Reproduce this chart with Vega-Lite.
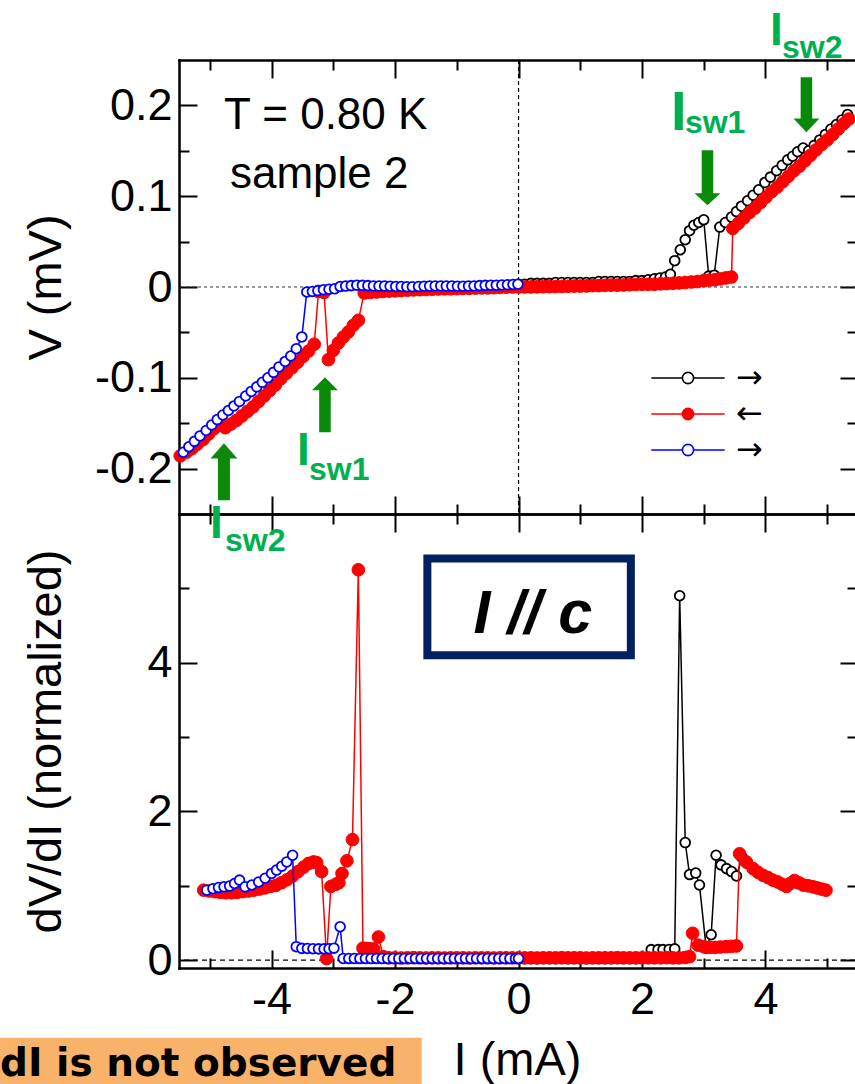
{
  "$schema": "https://vega.github.io/schema/vega-lite/v6.json",
  "padding": {"left": 0, "top": 8, "right": 0, "bottom": 0},
  "background": "white",
  "spacing": 0,
  "bounds": "flush",
  "datasets": {
    "iv": [
      {"s":"k","I":0,"V":0.003},{"s":"k","I":0.1,"V":0.003},{"s":"k","I":0.2,"V":0.004},{"s":"k","I":0.3,"V":0.004},{"s":"k","I":0.4,"V":0.004},{"s":"k","I":0.5,"V":0.004},{"s":"k","I":0.6,"V":0.005},{"s":"k","I":0.7,"V":0.005},{"s":"k","I":0.8,"V":0.005},{"s":"k","I":0.9,"V":0.005},{"s":"k","I":1.0,"V":0.005},{"s":"k","I":1.1,"V":0.005},{"s":"k","I":1.2,"V":0.005},{"s":"k","I":1.3,"V":0.006},{"s":"k","I":1.4,"V":0.006},{"s":"k","I":1.5,"V":0.006},{"s":"k","I":1.6,"V":0.006},{"s":"k","I":1.7,"V":0.006},{"s":"k","I":1.8,"V":0.006},{"s":"k","I":1.9,"V":0.007},{"s":"k","I":2.0,"V":0.007},{"s":"k","I":2.1,"V":0.008},{"s":"k","I":2.2,"V":0.009},{"s":"k","I":2.29,"V":0.010},{"s":"k","I":2.38,"V":0.011},{"s":"k","I":2.46,"V":0.014},{"s":"k","I":2.53,"V":0.029},{"s":"k","I":2.62,"V":0.041},{"s":"k","I":2.70,"V":0.052},{"s":"k","I":2.77,"V":0.062},{"s":"k","I":2.84,"V":0.068},{"s":"k","I":2.92,"V":0.071},{"s":"k","I":3.00,"V":0.074},{"s":"k","I":3.08,"V":0.012},{"s":"k","I":3.17,"V":0.013},{"s":"k","I":3.26,"V":0.066},{"s":"k","I":3.35,"V":0.071},{"s":"k","I":3.45,"V":0.077},{"s":"k","I":3.53,"V":0.083},{"s":"k","I":3.61,"V":0.089},{"s":"k","I":3.71,"V":0.095},{"s":"k","I":3.80,"V":0.101},{"s":"k","I":3.89,"V":0.107},{"s":"k","I":3.99,"V":0.115},{"s":"k","I":4.08,"V":0.121},{"s":"k","I":4.18,"V":0.128},{"s":"k","I":4.27,"V":0.134},{"s":"k","I":4.36,"V":0.140},{"s":"k","I":4.44,"V":0.144},{"s":"k","I":4.52,"V":0.149},{"s":"k","I":4.61,"V":0.153},{"s":"k","I":4.70,"V":0.150},{"s":"k","I":4.79,"V":0.156},{"s":"k","I":4.88,"V":0.162},{"s":"k","I":4.97,"V":0.168},{"s":"k","I":5.06,"V":0.174},{"s":"k","I":5.15,"V":0.179},{"s":"k","I":5.24,"V":0.184},{"s":"k","I":5.33,"V":0.190},
      {"s":"r","I":-5.48,"V":-0.186},{"s":"r","I":-5.38,"V":-0.182},{"s":"r","I":-5.29,"V":-0.178},{"s":"r","I":-5.20,"V":-0.173},{"s":"r","I":-5.11,"V":-0.168},{"s":"r","I":-5.02,"V":-0.162},{"s":"r","I":-4.93,"V":-0.156},{"s":"r","I":-4.84,"V":-0.150},{"s":"r","I":-4.75,"V":-0.155},{"s":"r","I":-4.66,"V":-0.151},{"s":"r","I":-4.57,"V":-0.147},{"s":"r","I":-4.48,"V":-0.142},{"s":"r","I":-4.39,"V":-0.137},{"s":"r","I":-4.30,"V":-0.132},{"s":"r","I":-4.21,"V":-0.126},{"s":"r","I":-4.12,"V":-0.120},{"s":"r","I":-4.03,"V":-0.114},{"s":"r","I":-3.94,"V":-0.108},{"s":"r","I":-3.85,"V":-0.101},{"s":"r","I":-3.76,"V":-0.095},{"s":"r","I":-3.67,"V":-0.089},{"s":"r","I":-3.58,"V":-0.083},{"s":"r","I":-3.49,"V":-0.0765},{"s":"r","I":-3.40,"V":-0.0705},{"s":"r","I":-3.31,"V":-0.063},{"s":"r","I":-3.24,"V":-0.005},{"s":"r","I":-3.15,"V":-0.006},{"s":"r","I":-3.08,"V":-0.080},{"s":"r","I":-3.00,"V":-0.0698},{"s":"r","I":-2.919,"V":-0.0617},{"s":"r","I":-2.838,"V":-0.0551},{"s":"r","I":-2.757,"V":-0.0496},{"s":"r","I":-2.676,"V":-0.0422},{"s":"r","I":-2.595,"V":-0.0367},{"s":"r","I":-2.5,"V":-0.0065},{"s":"r","I":-2.4,"V":-0.006},{"s":"r","I":-2.3,"V":-0.0055},{"s":"r","I":-2.2,"V":-0.005},{"s":"r","I":-2.1,"V":-0.0045},{"s":"r","I":-2.0,"V":-0.0042},{"s":"r","I":-1.9,"V":-0.004},{"s":"r","I":-1.8,"V":-0.0035},{"s":"r","I":-1.7,"V":-0.0032},{"s":"r","I":-1.6,"V":-0.003},{"s":"r","I":-1.5,"V":-0.0028},{"s":"r","I":-1.4,"V":-0.0025},{"s":"r","I":-1.3,"V":-0.0022},{"s":"r","I":-1.2,"V":-0.002},{"s":"r","I":-1.1,"V":-0.002},{"s":"r","I":-1.0,"V":-0.0018},{"s":"r","I":-0.9,"V":-0.0015},{"s":"r","I":-0.8,"V":-0.0015},{"s":"r","I":-0.7,"V":-0.0012},{"s":"r","I":-0.6,"V":-0.001},{"s":"r","I":-0.5,"V":-0.001},{"s":"r","I":-0.4,"V":-0.0008},{"s":"r","I":-0.3,"V":-0.0005},{"s":"r","I":-0.2,"V":-0.0002},{"s":"r","I":-0.1,"V":0.0},{"s":"r","I":0.0,"V":0.0},{"s":"r","I":0.1,"V":0.0},{"s":"r","I":0.2,"V":0.0001},{"s":"r","I":0.3,"V":0.0002},{"s":"r","I":0.4,"V":0.0003},{"s":"r","I":0.5,"V":0.0004},{"s":"r","I":0.6,"V":0.0005},{"s":"r","I":0.7,"V":0.0006},{"s":"r","I":0.8,"V":0.0008},{"s":"r","I":0.9,"V":0.001},{"s":"r","I":1.0,"V":0.001},{"s":"r","I":1.1,"V":0.0012},{"s":"r","I":1.2,"V":0.0015},{"s":"r","I":1.3,"V":0.0015},{"s":"r","I":1.4,"V":0.0018},{"s":"r","I":1.5,"V":0.002},{"s":"r","I":1.6,"V":0.002},{"s":"r","I":1.7,"V":0.0022},{"s":"r","I":1.8,"V":0.0025},{"s":"r","I":1.9,"V":0.0028},{"s":"r","I":2.0,"V":0.003},{"s":"r","I":2.1,"V":0.003},{"s":"r","I":2.2,"V":0.003},{"s":"r","I":2.3,"V":0.0035},{"s":"r","I":2.4,"V":0.0038},{"s":"r","I":2.5,"V":0.004},{"s":"r","I":2.6,"V":0.0045},{"s":"r","I":2.7,"V":0.005},{"s":"r","I":2.8,"V":0.0055},{"s":"r","I":2.9,"V":0.006},{"s":"r","I":3.0,"V":0.007},{"s":"r","I":3.09,"V":0.0075},{"s":"r","I":3.18,"V":0.008},{"s":"r","I":3.27,"V":0.009},{"s":"r","I":3.36,"V":0.010},{"s":"r","I":3.45,"V":0.011},{"s":"r","I":3.47,"V":0.0645},{"s":"r","I":3.56,"V":0.070},{"s":"r","I":3.65,"V":0.076},{"s":"r","I":3.74,"V":0.082},{"s":"r","I":3.83,"V":0.087},{"s":"r","I":3.92,"V":0.093},{"s":"r","I":4.01,"V":0.099},{"s":"r","I":4.10,"V":0.105},{"s":"r","I":4.19,"V":0.110},{"s":"r","I":4.28,"V":0.116},{"s":"r","I":4.37,"V":0.122},{"s":"r","I":4.46,"V":0.128},{"s":"r","I":4.55,"V":0.133},{"s":"r","I":4.64,"V":0.139},{"s":"r","I":4.73,"V":0.145},{"s":"r","I":4.82,"V":0.151},{"s":"r","I":4.91,"V":0.157},{"s":"r","I":5.00,"V":0.162},{"s":"r","I":5.09,"V":0.168},{"s":"r","I":5.18,"V":0.174},{"s":"r","I":5.27,"V":0.180},{"s":"r","I":5.35,"V":0.185},
      {"s":"b","I":-5.43,"V":-0.182},{"s":"b","I":-5.34,"V":-0.176},{"s":"b","I":-5.25,"V":-0.170},{"s":"b","I":-5.16,"V":-0.164},{"s":"b","I":-5.06,"V":-0.158},{"s":"b","I":-4.97,"V":-0.152},{"s":"b","I":-4.88,"V":-0.146},{"s":"b","I":-4.79,"V":-0.141},{"s":"b","I":-4.70,"V":-0.136},{"s":"b","I":-4.61,"V":-0.131},{"s":"b","I":-4.52,"V":-0.126},{"s":"b","I":-4.42,"V":-0.120},{"s":"b","I":-4.33,"V":-0.115},{"s":"b","I":-4.24,"V":-0.110},{"s":"b","I":-4.15,"V":-0.105},{"s":"b","I":-4.06,"V":-0.100},{"s":"b","I":-3.97,"V":-0.094},{"s":"b","I":-3.88,"V":-0.088},{"s":"b","I":-3.78,"V":-0.082},{"s":"b","I":-3.69,"V":-0.076},{"s":"b","I":-3.60,"V":-0.068},{"s":"b","I":-3.51,"V":-0.055},{"s":"b","I":-3.43,"V":-0.0055},{"s":"b","I":-3.34,"V":-0.005},{"s":"b","I":-3.25,"V":-0.004},{"s":"b","I":-3.16,"V":-0.003},{"s":"b","I":-3.07,"V":-0.0025},{"s":"b","I":-2.98,"V":-0.002},{"s":"b","I":-2.89,"V":0.0005},{"s":"b","I":-2.80,"V":0.001},{"s":"b","I":-2.71,"V":0.0015},{"s":"b","I":-2.62,"V":0.002},{"s":"b","I":-2.53,"V":0.0018},{"s":"b","I":-2.44,"V":0.0015},{"s":"b","I":-2.35,"V":0.0012},{"s":"b","I":-2.26,"V":0.001},{"s":"b","I":-2.17,"V":0.001},{"s":"b","I":-2.08,"V":0.0008},{"s":"b","I":-1.99,"V":0.0005},{"s":"b","I":-1.90,"V":0.0005},{"s":"b","I":-1.81,"V":0.0003},{"s":"b","I":-1.72,"V":0.0003},{"s":"b","I":-1.62,"V":0.0005},{"s":"b","I":-1.53,"V":0.0008},{"s":"b","I":-1.44,"V":0.001},{"s":"b","I":-1.35,"V":0.0012},{"s":"b","I":-1.26,"V":0.0012},{"s":"b","I":-1.17,"V":0.001},{"s":"b","I":-1.08,"V":0.001},{"s":"b","I":-0.99,"V":0.0008},{"s":"b","I":-0.90,"V":0.0008},{"s":"b","I":-0.81,"V":0.001},{"s":"b","I":-0.72,"V":0.0012},{"s":"b","I":-0.63,"V":0.0015},{"s":"b","I":-0.54,"V":0.0018},{"s":"b","I":-0.45,"V":0.002},{"s":"b","I":-0.36,"V":0.002},{"s":"b","I":-0.27,"V":0.0022},{"s":"b","I":-0.18,"V":0.0025},{"s":"b","I":-0.09,"V":0.0028},{"s":"b","I":-0.01,"V":0.003}
    ],
    "didv": [
      {"s":"k","I":0,"G":0.02},{"s":"k","I":0.1,"G":0.02},{"s":"k","I":0.2,"G":0.02},{"s":"k","I":0.3,"G":0.02},{"s":"k","I":0.4,"G":0.02},{"s":"k","I":0.5,"G":0.02},{"s":"k","I":0.6,"G":0.02},{"s":"k","I":0.7,"G":0.02},{"s":"k","I":0.8,"G":0.02},{"s":"k","I":0.9,"G":0.02},{"s":"k","I":1.0,"G":0.02},{"s":"k","I":1.1,"G":0.02},{"s":"k","I":1.2,"G":0.02},{"s":"k","I":1.3,"G":0.02},{"s":"k","I":1.4,"G":0.02},{"s":"k","I":1.5,"G":0.02},{"s":"k","I":1.6,"G":0.02},{"s":"k","I":1.7,"G":0.02},{"s":"k","I":1.8,"G":0.02},{"s":"k","I":1.9,"G":0.02},{"s":"k","I":2.0,"G":0.02},{"s":"k","I":2.15,"G":0.14},{"s":"k","I":2.26,"G":0.14},{"s":"k","I":2.34,"G":0.14},{"s":"k","I":2.44,"G":0.143},{"s":"k","I":2.53,"G":0.15},{"s":"k","I":2.61,"G":4.9},{"s":"k","I":2.70,"G":1.58},{"s":"k","I":2.77,"G":1.15},{"s":"k","I":2.87,"G":1.17},{"s":"k","I":2.93,"G":1.01},{"s":"k","I":3.04,"G":0.16},{"s":"k","I":3.12,"G":0.34},{"s":"k","I":3.20,"G":1.41},{"s":"k","I":3.28,"G":1.28},{"s":"k","I":3.37,"G":1.23},{"s":"k","I":3.45,"G":1.19},{"s":"k","I":3.53,"G":1.13},{"s":"k","I":3.62,"G":1.38},{"s":"k","I":3.71,"G":1.30},{"s":"k","I":3.80,"G":1.22},{"s":"k","I":3.89,"G":1.17},{"s":"k","I":3.98,"G":1.13},{"s":"k","I":4.07,"G":1.09},{"s":"k","I":4.16,"G":1.06},{"s":"k","I":4.25,"G":1.03},{"s":"k","I":4.34,"G":0.99},{"s":"k","I":4.43,"G":1.05},{"s":"k","I":4.52,"G":1.03},{"s":"k","I":4.61,"G":1.0},{"s":"k","I":4.70,"G":0.99},{"s":"k","I":4.79,"G":0.975},{"s":"k","I":4.88,"G":0.96},{"s":"k","I":4.97,"G":0.945},
      {"s":"r","I":-5.10,"G":0.94},{"s":"r","I":-5.01,"G":0.93},{"s":"r","I":-4.92,"G":0.92},{"s":"r","I":-4.83,"G":0.91},{"s":"r","I":-4.74,"G":0.905},{"s":"r","I":-4.65,"G":0.905},{"s":"r","I":-4.56,"G":0.91},{"s":"r","I":-4.47,"G":0.92},{"s":"r","I":-4.38,"G":0.93},{"s":"r","I":-4.29,"G":0.94},{"s":"r","I":-4.20,"G":0.955},{"s":"r","I":-4.11,"G":0.97},{"s":"r","I":-4.02,"G":0.99},{"s":"r","I":-3.93,"G":1.005},{"s":"r","I":-3.84,"G":1.04},{"s":"r","I":-3.75,"G":1.08},{"s":"r","I":-3.66,"G":1.13},{"s":"r","I":-3.57,"G":1.19},{"s":"r","I":-3.48,"G":1.25},{"s":"r","I":-3.40,"G":1.30},{"s":"r","I":-3.32,"G":1.32},{"s":"r","I":-3.27,"G":1.31},{"s":"r","I":-3.19,"G":1.19},{"s":"r","I":-3.11,"G":0.02},{"s":"r","I":-3.04,"G":0.99},{"s":"r","I":-2.96,"G":1.02},{"s":"r","I":-2.91,"G":1.04},{"s":"r","I":-2.86,"G":1.165},{"s":"r","I":-2.78,"G":1.335},{"s":"r","I":-2.69,"G":1.62},{"s":"r","I":-2.595,"G":5.25},{"s":"r","I":-2.52,"G":0.16},{"s":"r","I":-2.46,"G":0.155},{"s":"r","I":-2.41,"G":0.15},{"s":"r","I":-2.35,"G":0.15},{"s":"r","I":-2.27,"G":0.31},{"s":"r","I":-2.19,"G":0.045},{"s":"r","I":-2.1,"G":0.03},{"s":"r","I":-2.0,"G":0.03},{"s":"r","I":-1.9,"G":0.028},{"s":"r","I":-1.8,"G":0.03},{"s":"r","I":-1.7,"G":0.032},{"s":"r","I":-1.6,"G":0.03},{"s":"r","I":-1.5,"G":0.028},{"s":"r","I":-1.4,"G":0.03},{"s":"r","I":-1.3,"G":0.03},{"s":"r","I":-1.2,"G":0.028},{"s":"r","I":-1.1,"G":0.03},{"s":"r","I":-1.0,"G":0.03},{"s":"r","I":-0.9,"G":0.03},{"s":"r","I":-0.8,"G":0.028},{"s":"r","I":-0.7,"G":0.03},{"s":"r","I":-0.6,"G":0.03},{"s":"r","I":-0.5,"G":0.03},{"s":"r","I":-0.4,"G":0.028},{"s":"r","I":-0.3,"G":0.03},{"s":"r","I":-0.2,"G":0.03},{"s":"r","I":-0.1,"G":0.03},{"s":"r","I":0.0,"G":0.03},{"s":"r","I":0.1,"G":0.03},{"s":"r","I":0.2,"G":0.03},{"s":"r","I":0.3,"G":0.028},{"s":"r","I":0.4,"G":0.03},{"s":"r","I":0.5,"G":0.03},{"s":"r","I":0.6,"G":0.03},{"s":"r","I":0.7,"G":0.032},{"s":"r","I":0.8,"G":0.03},{"s":"r","I":0.9,"G":0.03},{"s":"r","I":1.0,"G":0.03},{"s":"r","I":1.1,"G":0.028},{"s":"r","I":1.2,"G":0.03},{"s":"r","I":1.3,"G":0.03},{"s":"r","I":1.4,"G":0.03},{"s":"r","I":1.5,"G":0.03},{"s":"r","I":1.6,"G":0.032},{"s":"r","I":1.7,"G":0.03},{"s":"r","I":1.8,"G":0.03},{"s":"r","I":1.9,"G":0.03},{"s":"r","I":2.0,"G":0.03},{"s":"r","I":2.1,"G":0.03},{"s":"r","I":2.2,"G":0.03},{"s":"r","I":2.3,"G":0.03},{"s":"r","I":2.4,"G":0.032},{"s":"r","I":2.5,"G":0.03},{"s":"r","I":2.6,"G":0.03},{"s":"r","I":2.7,"G":0.035},{"s":"r","I":2.77,"G":0.045},{"s":"r","I":2.82,"G":0.36},{"s":"r","I":2.91,"G":0.20},{"s":"r","I":3.0,"G":0.18},{"s":"r","I":3.09,"G":0.17},{"s":"r","I":3.18,"G":0.17},{"s":"r","I":3.27,"G":0.175},{"s":"r","I":3.36,"G":0.18},{"s":"r","I":3.45,"G":0.185},{"s":"r","I":3.53,"G":0.19},{"s":"r","I":3.58,"G":1.43},{"s":"r","I":3.69,"G":1.32},{"s":"r","I":3.80,"G":1.23},{"s":"r","I":3.88,"G":1.18},{"s":"r","I":3.96,"G":1.14},{"s":"r","I":4.04,"G":1.11},{"s":"r","I":4.12,"G":1.075},{"s":"r","I":4.20,"G":1.05},{"s":"r","I":4.27,"G":1.02},{"s":"r","I":4.34,"G":0.99},{"s":"r","I":4.40,"G":1.03},{"s":"r","I":4.47,"G":1.07},{"s":"r","I":4.54,"G":1.04},{"s":"r","I":4.61,"G":1.01},{"s":"r","I":4.69,"G":1.0},{"s":"r","I":4.77,"G":0.985},{"s":"r","I":4.84,"G":0.97},{"s":"r","I":4.91,"G":0.955},{"s":"r","I":4.98,"G":0.94},
      {"s":"b","I":-5.05,"G":0.94},{"s":"b","I":-4.95,"G":0.96},{"s":"b","I":-4.86,"G":0.975},{"s":"b","I":-4.77,"G":0.985},{"s":"b","I":-4.68,"G":0.995},{"s":"b","I":-4.60,"G":1.03},{"s":"b","I":-4.52,"G":1.075},{"s":"b","I":-4.43,"G":0.985},{"s":"b","I":-4.32,"G":1.01},{"s":"b","I":-4.21,"G":1.05},{"s":"b","I":-4.105,"G":1.10},{"s":"b","I":-4.0,"G":1.165},{"s":"b","I":-3.92,"G":1.21},{"s":"b","I":-3.835,"G":1.263},{"s":"b","I":-3.754,"G":1.32},{"s":"b","I":-3.66,"G":1.41},{"s":"b","I":-3.60,"G":0.18},{"s":"b","I":-3.51,"G":0.157},{"s":"b","I":-3.42,"G":0.155},{"s":"b","I":-3.33,"G":0.152},{"s":"b","I":-3.24,"G":0.15},{"s":"b","I":-3.15,"G":0.15},{"s":"b","I":-3.07,"G":0.152},{"s":"b","I":-2.99,"G":0.16},{"s":"b","I":-2.89,"G":0.448},{"s":"b","I":-2.84,"G":0.022},{"s":"b","I":-2.75,"G":0.02},{"s":"b","I":-2.66,"G":0.02},{"s":"b","I":-2.57,"G":0.02},{"s":"b","I":-2.48,"G":0.02},{"s":"b","I":-2.39,"G":0.02},{"s":"b","I":-2.30,"G":0.02},{"s":"b","I":-2.21,"G":0.02},{"s":"b","I":-2.12,"G":0.02},{"s":"b","I":-2.03,"G":0.02},{"s":"b","I":-1.94,"G":0.02},{"s":"b","I":-1.85,"G":0.02},{"s":"b","I":-1.76,"G":0.02},{"s":"b","I":-1.67,"G":0.02},{"s":"b","I":-1.58,"G":0.02},{"s":"b","I":-1.49,"G":0.02},{"s":"b","I":-1.40,"G":0.02},{"s":"b","I":-1.31,"G":0.02},{"s":"b","I":-1.22,"G":0.02},{"s":"b","I":-1.13,"G":0.02},{"s":"b","I":-1.04,"G":0.02},{"s":"b","I":-0.95,"G":0.02},{"s":"b","I":-0.86,"G":0.02},{"s":"b","I":-0.77,"G":0.02},{"s":"b","I":-0.68,"G":0.02},{"s":"b","I":-0.59,"G":0.02},{"s":"b","I":-0.50,"G":0.02},{"s":"b","I":-0.41,"G":0.02},{"s":"b","I":-0.32,"G":0.02},{"s":"b","I":-0.23,"G":0.02},{"s":"b","I":-0.14,"G":0.02},{"s":"b","I":-0.05,"G":0.02},{"s":"b","I":0.0,"G":0.02}
    ]
  },
  "vconcat": [
    {
      "width": 676,
      "height": 454,
      "resolve": {"axis": {"x": "independent", "y": "independent"}},
      "layer": [
        {"data": {"values": [{}]}, "mark": {"type": "rule", "strokeDash": [4, 3], "strokeWidth": 1.2, "color": "#000000"},
         "encoding": {"x": {"datum": 0, "type": "quantitative", "scale": {"domain": [-5.5, 5.45], "nice": false, "zero": false}, "axis": null}}},
        {"data": {"values": [{}]}, "mark": {"type": "rule", "strokeDash": [3, 3], "strokeWidth": 1, "color": "#333333"},
         "encoding": {"y": {"datum": 0, "type": "quantitative", "scale": {"domain": [-0.25, 0.25], "nice": false, "zero": false}, "axis": null}}},
        {"data": {"name": "iv"}, "transform": [{"filter": "datum.s == 'k'"}],
         "mark": {"type": "line", "strokeWidth": 1.5},
         "encoding": {
           "x": {"field": "I", "type": "quantitative", "scale": {"domain": [-5.5, 5.45], "nice": false, "zero": false},
                 "axis": {"orient": "bottom", "values": [-4, -2, 0, 2, 4], "tickSize": -18, "labels": false, "domain": true, "title": null}},
           "y": {"field": "V", "type": "quantitative", "scale": {"domain": [-0.25, 0.25], "nice": false, "zero": false},
                 "axis": {"orient": "left", "values": [-0.2, -0.1, 0, 0.1, 0.2], "ticks": false, "labelPadding": 7, "labelExpr": "datum.value == 0 ? '0' : (datum.value < 0 ? '-' + format(-datum.value, '.1f') : format(datum.value, '.1f'))", "title": "V (mV)", "titleAngle": 270, "titleBaseline": "bottom", "titleX": -109, "domain": true}},
           "stroke": {"field": "s", "type": "nominal", "scale": {"domain": ["k", "r", "b"], "range": ["#000000", "#ff0000", "#0000ff"]}}
         }},
        {"data": {"name": "iv"}, "transform": [{"filter": "datum.s == 'k'"}],
         "mark": {"type": "point", "shape": "circle", "filled": true, "size": 95, "strokeWidth": 1.8, "opacity": 1},
         "encoding": {
           "x": {"field": "I", "type": "quantitative", "scale": {"domain": [-5.5, 5.45], "nice": false, "zero": false},
                 "axis": {"orient": "bottom", "values": [-5, -3, -1, 1, 3, 5], "tickSize": -10, "labels": false, "domain": false, "title": null}},
           "y": {"field": "V", "type": "quantitative", "scale": {"domain": [-0.25, 0.25], "nice": false, "zero": false},
                 "axis": {"orient": "left", "values": [-0.2, -0.1, 0, 0.1, 0.2], "tickSize": -18, "labels": false, "domain": false, "title": null}},
           "stroke": {"field": "s", "type": "nominal", "scale": {"domain": ["k", "r", "b"], "range": ["#000000", "#ff0000", "#0000ff"]},
                      "legend": {"orient": "none", "legendX": 493, "legendY": 302, "direction": "vertical", "title": null, "padding": 0, "symbolType": "M-4,0L-0.61,0M0.61,0L4,0M0.61,0A0.61,0.61,0,1,1,-0.61,0A0.61,0.61,0,1,1,0.61,0Z", "symbolSize": 336, "symbolStrokeWidth": 1.6, "labelExpr": "datum.value == 'r' ? '←' : '→'", "labelFont": "DejaVu Sans", "labelFontSize": 32, "labelColor": "#000000", "labelOffset": 32, "rowPadding": 4}},
           "fill": {"field": "s", "type": "nominal", "scale": {"domain": ["k", "r", "b"], "range": ["#ffffff", "#ff0000", "#ffffff"]},
                    "legend": {"orient": "none", "legendX": 493, "legendY": 302, "direction": "vertical", "title": null, "padding": 0, "symbolType": "M-4,0L-0.61,0M0.61,0L4,0M0.61,0A0.61,0.61,0,1,1,-0.61,0A0.61,0.61,0,1,1,0.61,0Z", "symbolSize": 336, "symbolStrokeWidth": 1.6, "labelExpr": "datum.value == 'r' ? '←' : '→'", "labelFont": "DejaVu Sans", "labelFontSize": 32, "labelColor": "#000000", "labelOffset": 32, "rowPadding": 4}}
         }},
        {"data": {"name": "iv"}, "transform": [{"filter": "datum.s == 'r'"}],
         "mark": {"type": "line", "strokeWidth": 1.5},
         "encoding": {
           "x": {"field": "I", "type": "quantitative", "scale": {"domain": [-5.5, 5.45], "nice": false, "zero": false},
                 "axis": {"orient": "top", "values": [-4, -2, 0, 2, 4], "tickSize": -18, "labels": false, "domain": true, "title": null}},
           "y": {"field": "V", "type": "quantitative", "scale": {"domain": [-0.25, 0.25], "nice": false, "zero": false},
                 "axis": {"orient": "left", "values": [-0.15, -0.05, 0.05, 0.15], "tickSize": -10, "labels": false, "domain": false, "title": null}},
           "stroke": {"field": "s", "type": "nominal", "scale": {"domain": ["k", "r", "b"], "range": ["#000000", "#ff0000", "#0000ff"]}}
         }},
        {"data": {"name": "iv"}, "transform": [{"filter": "datum.s == 'r'"}],
         "mark": {"type": "point", "shape": "circle", "filled": true, "size": 160, "strokeWidth": 1, "opacity": 1},
         "encoding": {
           "x": {"field": "I", "type": "quantitative", "scale": {"domain": [-5.5, 5.45], "nice": false, "zero": false},
                 "axis": {"orient": "top", "values": [-5, -3, -1, 1, 3, 5], "tickSize": -10, "labels": false, "domain": false, "title": null}},
           "y": {"field": "V", "type": "quantitative", "scale": {"domain": [-0.25, 0.25], "nice": false, "zero": false},
                 "axis": {"orient": "right", "values": [-0.2, -0.1, 0, 0.1, 0.2], "tickSize": -15, "labels": false, "domain": false, "title": null}},
           "stroke": {"field": "s", "type": "nominal", "scale": {"domain": ["k", "r", "b"], "range": ["#000000", "#ff0000", "#0000ff"]}},
           "fill": {"field": "s", "type": "nominal", "scale": {"domain": ["k", "r", "b"], "range": ["#ffffff", "#ff0000", "#ffffff"]}}
         }},
        {"data": {"name": "iv"}, "transform": [{"filter": "datum.s == 'b'"}],
         "mark": {"type": "line", "strokeWidth": 1.5},
         "encoding": {
           "x": {"field": "I", "type": "quantitative", "scale": {"domain": [-5.5, 5.45], "nice": false, "zero": false}, "axis": null},
           "y": {"field": "V", "type": "quantitative", "scale": {"domain": [-0.25, 0.25], "nice": false, "zero": false},
                 "axis": {"orient": "right", "values": [-0.15, -0.05, 0.05, 0.15], "tickSize": -8, "labels": false, "domain": false, "title": null}},
           "stroke": {"field": "s", "type": "nominal", "scale": {"domain": ["k", "r", "b"], "range": ["#000000", "#ff0000", "#0000ff"]}}
         }},
        {"data": {"name": "iv"}, "transform": [{"filter": "datum.s == 'b'"}],
         "mark": {"type": "point", "shape": "circle", "filled": true, "size": 95, "strokeWidth": 1.8, "opacity": 1},
         "encoding": {
           "x": {"field": "I", "type": "quantitative", "scale": {"domain": [-5.5, 5.45], "nice": false, "zero": false}, "axis": null},
           "y": {"field": "V", "type": "quantitative", "scale": {"domain": [-0.25, 0.25], "nice": false, "zero": false}, "axis": null},
           "stroke": {"field": "s", "type": "nominal", "scale": {"domain": ["k", "r", "b"], "range": ["#000000", "#ff0000", "#0000ff"]}},
           "fill": {"field": "s", "type": "nominal", "scale": {"domain": ["k", "r", "b"], "range": ["#ffffff", "#ff0000", "#ffffff"]}}
         }},
        {"data": {"values": [{}]}, "mark": {"type": "text", "text": "T = 0.80 K", "align": "left", "baseline": "alphabetic", "font": "Liberation Sans", "fontSize": 44, "color": "#000000"},
         "encoding": {"x": {"datum": -4.772, "type": "quantitative", "scale": {"domain": [-5.5, 5.45], "nice": false, "zero": false}, "axis": null},
                      "y": {"datum": 0.1744, "type": "quantitative", "scale": {"domain": [-0.25, 0.25], "nice": false, "zero": false}, "axis": null}}},
        {"data": {"values": [{}]}, "mark": {"type": "text", "text": "sample 2", "align": "left", "baseline": "alphabetic", "font": "Liberation Sans", "fontSize": 44, "color": "#000000"},
         "encoding": {"x": {"datum": -4.674, "type": "quantitative", "scale": {"domain": [-5.5, 5.45], "nice": false, "zero": false}, "axis": null},
                      "y": {"datum": 0.1087, "type": "quantitative", "scale": {"domain": [-0.25, 0.25], "nice": false, "zero": false}, "axis": null}}},
        {"data": {"values": [{}]}, "mark": {"type": "point", "shape": "M-0.21,-1L0.21,-1L0.21,0.56L0.47,0.56L0,1L-0.47,0.56L-0.21,0.56Z", "size": 3025, "filled": true, "fill": "#0a8a0a", "strokeWidth": 0, "opacity": 1},
         "encoding": {"x": {"datum": 3.06, "type": "quantitative", "scale": {"domain": [-5.5, 5.45], "nice": false, "zero": false}, "axis": null},
                      "y": {"datum": 0.1203, "type": "quantitative", "scale": {"domain": [-0.25, 0.25], "nice": false, "zero": false}, "axis": null}}},
        {"data": {"values": [{}]}, "mark": {"type": "point", "shape": "M-0.21,-1L0.21,-1L0.21,0.5L0.47,0.5L0,1L-0.47,0.5L-0.21,0.5Z", "size": 3025, "filled": true, "fill": "#0a8a0a", "strokeWidth": 0, "opacity": 1},
         "encoding": {"x": {"datum": 4.663, "type": "quantitative", "scale": {"domain": [-5.5, 5.45], "nice": false, "zero": false}, "axis": null},
                      "y": {"datum": 0.2007, "type": "quantitative", "scale": {"domain": [-0.25, 0.25], "nice": false, "zero": false}, "axis": null}}},
        {"data": {"values": [{}]}, "mark": {"type": "point", "shape": "M-0.21,1L0.21,1L0.21,-0.53L0.47,-0.53L0,-1L-0.47,-0.53L-0.21,-0.53Z", "size": 3025, "filled": true, "fill": "#0a8a0a", "strokeWidth": 0, "opacity": 1},
         "encoding": {"x": {"datum": -3.136, "type": "quantitative", "scale": {"domain": [-5.5, 5.45], "nice": false, "zero": false}, "axis": null},
                      "y": {"datum": -0.1297, "type": "quantitative", "scale": {"domain": [-0.25, 0.25], "nice": false, "zero": false}, "axis": null}}},
        {"data": {"values": [{}]}, "mark": {"type": "point", "shape": "M-0.21,1L0.21,1L0.21,-0.47L0.47,-0.47L0,-1L-0.47,-0.47L-0.21,-0.47Z", "size": 3249, "filled": true, "fill": "#0a8a0a", "strokeWidth": 0, "opacity": 1},
         "encoding": {"x": {"datum": -4.772, "type": "quantitative", "scale": {"domain": [-5.5, 5.45], "nice": false, "zero": false}, "axis": null},
                      "y": {"datum": -0.2035, "type": "quantitative", "scale": {"domain": [-0.25, 0.25], "nice": false, "zero": false}, "axis": null}}},
        {"data": {"values": [{}]}, "mark": {"type": "text", "text": "I", "align": "left", "baseline": "alphabetic", "font": "Liberation Sans", "fontWeight": "bold", "fontSize": 56, "color": "#00b050"},
         "encoding": {"x": {"datum": 2.468, "type": "quantitative", "scale": {"domain": [-5.5, 5.45], "nice": false, "zero": false}, "axis": null},
                      "y": {"datum": 0.1726, "type": "quantitative", "scale": {"domain": [-0.25, 0.25], "nice": false, "zero": false}, "axis": null}}},
        {"data": {"values": [{}]}, "mark": {"type": "text", "text": "sw1", "align": "left", "baseline": "alphabetic", "font": "Liberation Sans", "fontWeight": "bold", "fontSize": 32, "color": "#00b050"},
         "encoding": {"x": {"datum": 2.695, "type": "quantitative", "scale": {"domain": [-5.5, 5.45], "nice": false, "zero": false}, "axis": null},
                      "y": {"datum": 0.1691, "type": "quantitative", "scale": {"domain": [-0.25, 0.25], "nice": false, "zero": false}, "axis": null}}},
        {"data": {"values": [{}]}, "mark": {"type": "text", "text": "I", "align": "left", "baseline": "alphabetic", "font": "Liberation Sans", "fontWeight": "bold", "fontSize": 46, "color": "#00b050"},
         "encoding": {"x": {"datum": 4.073, "type": "quantitative", "scale": {"domain": [-5.5, 5.45], "nice": false, "zero": false}, "axis": null},
                      "y": {"datum": 0.2662, "type": "quantitative", "scale": {"domain": [-0.25, 0.25], "nice": false, "zero": false}, "axis": null}}},
        {"data": {"values": [{}]}, "mark": {"type": "text", "text": "sw2", "align": "left", "baseline": "alphabetic", "font": "Liberation Sans", "fontWeight": "bold", "fontSize": 32, "color": "#00b050"},
         "encoding": {"x": {"datum": 4.267, "type": "quantitative", "scale": {"domain": [-5.5, 5.45], "nice": false, "zero": false}, "axis": null},
                      "y": {"datum": 0.2519, "type": "quantitative", "scale": {"domain": [-0.25, 0.25], "nice": false, "zero": false}, "axis": null}}},
        {"data": {"values": [{}]}, "mark": {"type": "text", "text": "I", "align": "left", "baseline": "alphabetic", "font": "Liberation Sans", "fontWeight": "bold", "fontSize": 46, "color": "#00b050"},
         "encoding": {"x": {"datum": -3.589, "type": "quantitative", "scale": {"domain": [-5.5, 5.45], "nice": false, "zero": false}, "axis": null},
                      "y": {"datum": -0.1964, "type": "quantitative", "scale": {"domain": [-0.25, 0.25], "nice": false, "zero": false}, "axis": null}}},
        {"data": {"values": [{}]}, "mark": {"type": "text", "text": "sw1", "align": "left", "baseline": "alphabetic", "font": "Liberation Sans", "fontWeight": "bold", "fontSize": 32, "color": "#00b050"},
         "encoding": {"x": {"datum": -3.394, "type": "quantitative", "scale": {"domain": [-5.5, 5.45], "nice": false, "zero": false}, "axis": null},
                      "y": {"datum": -0.2129, "type": "quantitative", "scale": {"domain": [-0.25, 0.25], "nice": false, "zero": false}, "axis": null}}}
      ]
    },
    {
      "width": 676,
      "height": 454,
      "resolve": {"axis": {"x": "independent", "y": "independent"}},
      "layer": [
        {"data": {"values": [{}]}, "mark": {"type": "rule", "strokeDash": [5, 4], "strokeWidth": 1.3, "color": "#000000"},
         "encoding": {"y": {"datum": 0, "type": "quantitative", "scale": {"domain": [-0.107, 6.0], "nice": false, "zero": false}, "axis": null}}},
        {"data": {"values": [{}]}, "mark": {"type": "rect", "fill": "#f8b26a", "strokeWidth": 0},
         "encoding": {"x": {"datum": -8.399, "type": "quantitative", "scale": {"domain": [-5.5, 5.45], "nice": false, "zero": false}, "axis": null},
                      "x2": {"datum": -1.569},
                      "y": {"datum": -1.044, "type": "quantitative", "scale": {"domain": [-0.107, 6.0], "nice": false, "zero": false}, "axis": null},
                      "y2": {"datum": -1.667}}},
        {"data": {"values": [{}]}, "mark": {"type": "text", "text": "dI is not observed", "align": "left", "baseline": "bottom", "font": "DejaVu Sans", "fontWeight": "bold", "fontSize": 39, "color": "#000000"},
         "encoding": {"x": {"datum": -8.399, "type": "quantitative", "scale": {"domain": [-5.5, 5.45], "nice": false, "zero": false}, "axis": null},
                      "y": {"datum": -1.667, "type": "quantitative", "scale": {"domain": [-0.107, 6.0], "nice": false, "zero": false}, "axis": null}}},
        {"data": {"values": [{}]}, "mark": {"type": "rect", "fill": "#ffffff", "stroke": "#002060", "strokeWidth": 8},
         "encoding": {"x": {"datum": -1.477, "type": "quantitative", "scale": {"domain": [-5.5, 5.45], "nice": false, "zero": false}, "axis": null},
                      "x2": {"datum": 1.819},
                      "y": {"datum": 5.403, "type": "quantitative", "scale": {"domain": [-0.107, 6.0], "nice": false, "zero": false}, "axis": null},
                      "y2": {"datum": 4.099}}},
        {"data": {"values": [{}]}, "mark": {"type": "text", "text": "I // c", "align": "center", "baseline": "alphabetic", "font": "Liberation Sans", "fontWeight": "bold", "fontStyle": "italic", "fontSize": 61, "color": "#000000"},
         "encoding": {"x": {"datum": 0.233, "type": "quantitative", "scale": {"domain": [-5.5, 5.45], "nice": false, "zero": false}, "axis": null},
                      "y": {"datum": 4.399, "type": "quantitative", "scale": {"domain": [-0.107, 6.0], "nice": false, "zero": false}, "axis": null}}},
        {"data": {"name": "didv"}, "transform": [{"filter": "datum.s == 'k'"}],
         "mark": {"type": "line", "strokeWidth": 1.5},
         "encoding": {
           "x": {"field": "I", "type": "quantitative", "scale": {"domain": [-5.5, 5.45], "nice": false, "zero": false},
                 "axis": {"orient": "bottom", "values": [-4, -2, 0, 2, 4], "ticks": false, "labelPadding": 9, "labelExpr": "datum.value < 0 ? '-' + format(-datum.value, 'd') : format(datum.value, 'd')", "title": "I (mA)", "titleBaseline": "bottom", "titleY": 116, "domain": true}},
           "y": {"field": "G", "type": "quantitative", "scale": {"domain": [-0.107, 6.0], "nice": false, "zero": false},
                 "axis": {"orient": "left", "values": [0, 2, 4], "ticks": false, "labelPadding": 7, "title": "dV/dI (normalized)", "titleAngle": 270, "titleBaseline": "bottom", "titleX": -109, "domain": true}},
           "stroke": {"field": "s", "type": "nominal", "scale": {"domain": ["k", "r", "b"], "range": ["#000000", "#ff0000", "#0000ff"]}}
         }},
        {"data": {"name": "didv"}, "transform": [{"filter": "datum.s == 'k'"}],
         "mark": {"type": "point", "shape": "circle", "filled": true, "size": 95, "strokeWidth": 1.8, "opacity": 1},
         "encoding": {
           "x": {"field": "I", "type": "quantitative", "scale": {"domain": [-5.5, 5.45], "nice": false, "zero": false},
                 "axis": {"orient": "bottom", "values": [-4, -2, 0, 2, 4], "tickSize": -18, "labels": false, "domain": false, "title": null}},
           "y": {"field": "G", "type": "quantitative", "scale": {"domain": [-0.107, 6.0], "nice": false, "zero": false},
                 "axis": {"orient": "left", "values": [0, 2, 4], "tickSize": -18, "labels": false, "domain": false, "title": null}},
           "stroke": {"field": "s", "type": "nominal", "scale": {"domain": ["k", "r", "b"], "range": ["#000000", "#ff0000", "#0000ff"]}},
           "fill": {"field": "s", "type": "nominal", "scale": {"domain": ["k", "r", "b"], "range": ["#ffffff", "#ff0000", "#ffffff"]}}
         }},
        {"data": {"name": "didv"}, "transform": [{"filter": "datum.s == 'r'"}],
         "mark": {"type": "line", "strokeWidth": 1.5},
         "encoding": {
           "x": {"field": "I", "type": "quantitative", "scale": {"domain": [-5.5, 5.45], "nice": false, "zero": false},
                 "axis": {"orient": "bottom", "values": [-5, -3, -1, 1, 3, 5], "tickSize": -10, "labels": false, "domain": false, "title": null}},
           "y": {"field": "G", "type": "quantitative", "scale": {"domain": [-0.107, 6.0], "nice": false, "zero": false},
                 "axis": {"orient": "left", "values": [1, 3, 5], "tickSize": -10, "labels": false, "domain": false, "title": null}},
           "stroke": {"field": "s", "type": "nominal", "scale": {"domain": ["k", "r", "b"], "range": ["#000000", "#ff0000", "#0000ff"]}}
         }},
        {"data": {"name": "didv"}, "transform": [{"filter": "datum.s == 'r'"}],
         "mark": {"type": "point", "shape": "circle", "filled": true, "size": 160, "strokeWidth": 1, "opacity": 1},
         "encoding": {
           "x": {"field": "I", "type": "quantitative", "scale": {"domain": [-5.5, 5.45], "nice": false, "zero": false},
                 "axis": {"orient": "top", "values": [-4, -2, 0, 2, 4], "tickSize": -18, "labels": false, "domain": true, "title": null}},
           "y": {"field": "G", "type": "quantitative", "scale": {"domain": [-0.107, 6.0], "nice": false, "zero": false},
                 "axis": {"orient": "right", "values": [0, 2, 4], "tickSize": -15, "labels": false, "domain": false, "title": null}},
           "stroke": {"field": "s", "type": "nominal", "scale": {"domain": ["k", "r", "b"], "range": ["#000000", "#ff0000", "#0000ff"]}},
           "fill": {"field": "s", "type": "nominal", "scale": {"domain": ["k", "r", "b"], "range": ["#ffffff", "#ff0000", "#ffffff"]}}
         }},
        {"data": {"name": "didv"}, "transform": [{"filter": "datum.s == 'b'"}],
         "mark": {"type": "line", "strokeWidth": 1.5},
         "encoding": {
           "x": {"field": "I", "type": "quantitative", "scale": {"domain": [-5.5, 5.45], "nice": false, "zero": false},
                 "axis": {"orient": "top", "values": [-5, -3, -1, 1, 3, 5], "tickSize": -10, "labels": false, "domain": false, "title": null}},
           "y": {"field": "G", "type": "quantitative", "scale": {"domain": [-0.107, 6.0], "nice": false, "zero": false},
                 "axis": {"orient": "right", "values": [1, 3, 5], "tickSize": -8, "labels": false, "domain": false, "title": null}},
           "stroke": {"field": "s", "type": "nominal", "scale": {"domain": ["k", "r", "b"], "range": ["#000000", "#ff0000", "#0000ff"]}}
         }},
        {"data": {"name": "didv"}, "transform": [{"filter": "datum.s == 'b'"}],
         "mark": {"type": "point", "shape": "circle", "filled": true, "size": 95, "strokeWidth": 1.8, "opacity": 1},
         "encoding": {
           "x": {"field": "I", "type": "quantitative", "scale": {"domain": [-5.5, 5.45], "nice": false, "zero": false}, "axis": null},
           "y": {"field": "G", "type": "quantitative", "scale": {"domain": [-0.107, 6.0], "nice": false, "zero": false}, "axis": null},
           "stroke": {"field": "s", "type": "nominal", "scale": {"domain": ["k", "r", "b"], "range": ["#000000", "#ff0000", "#0000ff"]}},
           "fill": {"field": "s", "type": "nominal", "scale": {"domain": ["k", "r", "b"], "range": ["#ffffff", "#ff0000", "#ffffff"]}}
         }},
        {"data": {"values": [{}]}, "mark": {"type": "text", "text": "I", "align": "left", "baseline": "alphabetic", "font": "Liberation Sans", "fontWeight": "bold", "fontSize": 46, "color": "#00b050"},
         "encoding": {"x": {"datum": -4.998, "type": "quantitative", "scale": {"domain": [-5.5, 5.45], "nice": false, "zero": false}, "axis": null},
                      "y": {"datum": 5.672, "type": "quantitative", "scale": {"domain": [-0.107, 6.0], "nice": false, "zero": false}, "axis": null}}},
        {"data": {"values": [{}]}, "mark": {"type": "text", "text": "sw2", "align": "left", "baseline": "alphabetic", "font": "Liberation Sans", "fontWeight": "bold", "fontSize": 32, "color": "#00b050"},
         "encoding": {"x": {"datum": -4.755, "type": "quantitative", "scale": {"domain": [-5.5, 5.45], "nice": false, "zero": false}, "axis": null},
                      "y": {"datum": 5.50, "type": "quantitative", "scale": {"domain": [-0.107, 6.0], "nice": false, "zero": false}, "axis": null}}}
      ]
    }
  ],
  "config": {
    "view": {"stroke": null},
    "axis": {"grid": false, "domainColor": "#000000", "domainWidth": 2.5, "domainCap": "square", "tickColor": "#000000", "tickWidth": 2, "labelFont": "Liberation Sans", "labelFontSize": 45, "labelColor": "#000000", "labelFlush": false, "labelOverlap": false, "titleFont": "Liberation Sans", "titleFontSize": 47, "titleFontWeight": "normal", "titleColor": "#000000"}
  }
}
